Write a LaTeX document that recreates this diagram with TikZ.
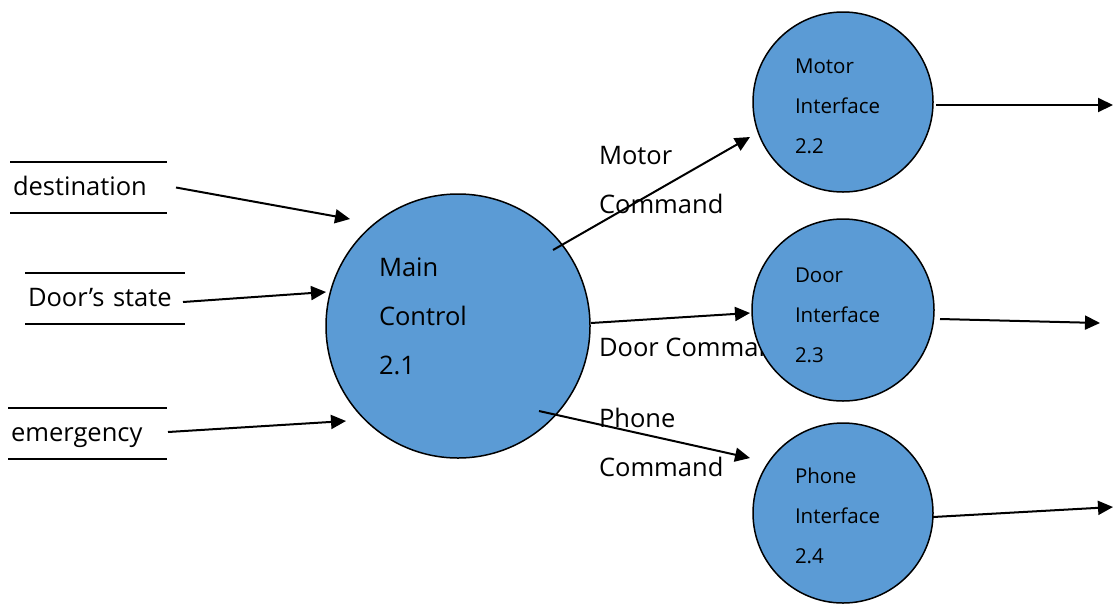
\documentclass[tikz,border=0pt]{standalone}
\usepackage{fontspec}
\setmainfont{Open Sans}
\usetikzlibrary{arrows.meta,positioning}
\definecolor{procFill}{HTML}{5B9BD5}
\tikzset{
	process/.style={circle, draw, line width=1.5pt, fill=procFill, inner sep=0pt, outer sep=0pt, minimum size=#1},
	store/.style={minimum height=51pt, inner xsep=3pt, inner ysep=0pt, outer sep=0pt, align=left,
		text height=22pt, text depth=6pt, font=\fontsize{25.5}{30}\selectfont},
	% base anchor of a multi-line node sits on its last line
	flow/.style={anchor=base west, inner sep=0pt, align=left, font=\fontsize{25.5}{49}\selectfont},
	ptext/.style={anchor=base west, inner sep=0pt, align=left, font=\fontsize{20.5}{40}\selectfont},
	mtext/.style={anchor=base west, inner sep=0pt, align=left, font=\fontsize{25.5}{49}\selectfont}
}

\begin{document}
\begin{tikzpicture}[x=1pt, y=-1pt, ->, >={Triangle[length=15pt,width=14pt]}, line width=2pt]
	\useasboundingbox (0,0) rectangle (1115,606);

	% data stores
	\node[store, text width=151pt] (dest) at (88.5,187.5) {destination};
	\node[store, text width=154pt] (doorst) at (105,298) {Door’s state};
	\node[store, text width=153pt] (emerg) at (87.5,433) {emergency};
	\foreach \s in {dest,doorst,emerg}
		\draw[-] (\s.north west) -- (\s.north east) (\s.south west) -- (\s.south east);

	% flow labels go first, the circles lie on top of them
	\node[flow] (motor-lbl) at (598,213) {Motor\\Command};
	\node[flow] (door-lbl) at (598,356) {Door Command};
	\node[flow] (phone-lbl) at (598,476) {Phone\\Command};

	% processes
	\node[process=264pt] (main) at (458,326) {};
	\node[process=180pt] (motor) at (843,102) {};
	\node[process=182pt] (door) at (843,310) {};
	\node[process=180pt] (phone) at (843,513) {};
	\node[mtext] (main-txt) at (378,374) {Main\\Control\\2.1};
	\node[ptext] (motor-txt) at (794,153) {Motor\\Interface\\2.2};
	\node[ptext] (door-txt) at (794,362) {Door\\Interface\\2.3};
	\node[ptext] (phone-txt) at (794,563) {Phone\\Interface\\2.4};

	% inputs
	\draw ([xshift=9pt]dest.east) -- ([shift={(-108,-107)}]main.center);
	\draw ([shift={(-2,4)}]doorst.east) -- ([shift={(-132,-34)}]main.center);
	\draw ([shift={(1,-1)}]emerg.east) -- ([shift={(-112,95)}]main.center);

	% commands
	\draw ([shift={(95,-76)}]main.center) -- ([shift={(-93,35)}]motor.center);
	\draw ([shift={(133,-3)}]main.center) -- ([shift={(-93,3)}]door.center);
	\draw ([shift={(81,85)}]main.center) -- ([shift={(-93,-55)}]phone.center);

	% outputs
	\coordinate (motor-out) at (1113,105);
	\coordinate (door-out) at (1100,323);
	\coordinate (phone-out) at (1113,507);
	\draw ([shift={(93,3)}]motor.center) -- (motor-out);
	\draw ([shift={(97,9)}]door.center) -- (door-out);
	\draw ([shift={(90,4)}]phone.center) -- (phone-out);
\end{tikzpicture}
\end{document}
